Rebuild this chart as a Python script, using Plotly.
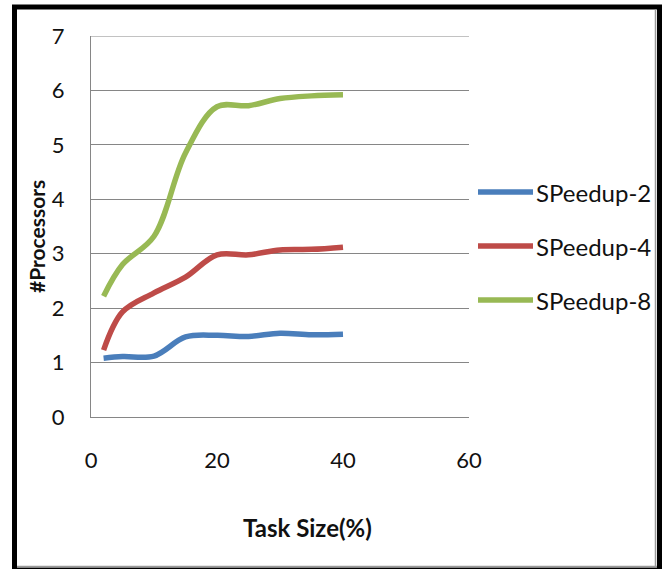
import plotly.graph_objects as go

# Task size (%) and measured speedup for 2, 4 and 8 processors
task_size = [2, 5, 10, 15, 20, 25, 30, 35, 40]
speedup_2 = [1.08, 1.11, 1.12, 1.47, 1.50, 1.48, 1.54, 1.51, 1.52]
speedup_4 = [1.23, 1.93, 2.28, 2.57, 2.98, 2.98, 3.07, 3.08, 3.12]
speedup_8 = [2.22, 2.80, 3.32, 4.85, 5.70, 5.72, 5.85, 5.90, 5.92]

series_names = ["SPeedup-2", "SPeedup-4", "SPeedup-8"]
series_values = [speedup_2, speedup_4, speedup_8]
series_colors = ["#4A7EBB", "#BE4B48", "#98B954"]

x_ticks = [0, 20, 40, 60]
y_ticks = [0, 1, 2, 3, 4, 5, 6, 7]
y_max = 7

W, H = 670, 569
L, R, T, B = 91, 201, 36, 152
PW, PH = W - L - R, H - T - B

FONT = "Lato"
GRID = "#868686"


def px(x):
    """Horizontal page pixel -> paper coordinate."""
    return (x - L) / PW


def py(y):
    """Vertical page pixel -> paper coordinate."""
    return (H - B - y) / PH


fig = go.Figure()

for name, vals, color in zip(series_names, series_values, series_colors):
    fig.add_trace(go.Scatter(
        x=task_size, y=vals, name=name, mode="lines",
        line=dict(color=color, width=5.5, shape="spline", smoothing=1.0),
        showlegend=False,
    ))

shapes = []
annotations = []

# gridline along the top of the value axis
shapes.append(dict(type="line", xref="paper", yref="y",
                   x0=0, x1=1, y0=y_max, y1=y_max,
                   line=dict(color=GRID, width=1.2), layer="below"))

# legend drawn to the right of the plot area
legend_rows = [192, 246, 300]
for name, color, yy in zip(series_names, series_colors, legend_rows):
    shapes.append(dict(type="line", xref="paper", yref="paper",
                       x0=px(478), x1=px(533), y0=py(yy), y1=py(yy),
                       line=dict(color=color, width=5.5)))
    annotations.append(dict(text=name, xref="paper", yref="paper",
                            x=px(534), y=py(yy), xanchor="left", yanchor="middle",
                            showarrow=False,
                            font=dict(family=FONT, size=24, color="#111111")))

# outer chart frame with a thin inner shadow line
shapes.append(dict(type="rect", xref="paper", yref="paper",
                   x0=px(14.5), x1=px(659.5), y0=py(7), y1=py(570),
                   line=dict(color="#000000", width=5), layer="above"))
shapes.append(dict(type="line", xref="paper", yref="paper",
                   x0=px(655.5), x1=px(655.5), y0=py(9.5), y1=py(566.5),
                   line=dict(color="#9a9a9a", width=1.5), layer="above"))
shapes.append(dict(type="line", xref="paper", yref="paper",
                   x0=px(17), x1=px(657), y0=py(566.5), y1=py(566.5),
                   line=dict(color="#9a9a9a", width=1.5), layer="above"))

# axis titles
annotations.append(dict(text="<b>Task Size(%)</b>", xref="paper", yref="paper",
                        x=px(307), y=py(527), xanchor="center", yanchor="middle",
                        showarrow=False,
                        font=dict(family=FONT, size=24, color="#111111")))
annotations.append(dict(text="<b>#Processors</b>", xref="paper", yref="paper",
                        x=px(37), y=py(237), xanchor="center", yanchor="middle",
                        textangle=-90, showarrow=False,
                        font=dict(family=FONT, size=21, color="#111111")))

fig.update_layout(
    width=W, height=H,
    margin=dict(l=L, r=R, t=T, b=B, pad=0),
    paper_bgcolor="white", plot_bgcolor="white",
    shapes=shapes, annotations=annotations,
    xaxis=dict(range=[0, 60], tickvals=x_ticks, showgrid=False,
               showline=True, linecolor=GRID, linewidth=1.2,
               zeroline=False, ticks="", ticklabelstandoff=23,
               tickfont=dict(family=FONT, size=22, color="#111111")),
    yaxis=dict(range=[0, y_max], tickvals=y_ticks, showgrid=True,
               gridcolor=GRID, gridwidth=1.2,
               showline=True, linecolor=GRID, linewidth=1.2,
               zeroline=False, ticks="", ticklabelstandoff=21,
               tickfont=dict(family=FONT, size=22, color="#111111")),
)

fig.write_html("out.html", config={"displayModeBar": False})
